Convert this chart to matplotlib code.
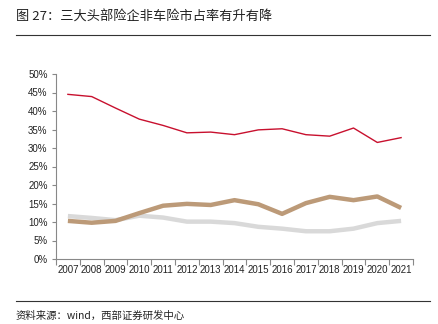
import matplotlib
matplotlib.use("Agg")
import matplotlib.pyplot as plt
from matplotlib.ticker import FixedLocator, PercentFormatter
import numpy as np

years = ["2007", "2008", "2009", "2010", "2011", "2012", "2013", "2014",
         "2015", "2016", "2017", "2018", "2019", "2020", "2021"]
red_series = [44.5, 43.9, 40.8, 37.8, 36.1, 34.1, 34.3, 33.6, 34.9, 35.2, 33.6, 33.2, 35.4, 31.5, 32.8]
tan_series = [10.3, 9.8, 10.3, 12.4, 14.4, 14.9, 14.6, 15.9, 14.8, 12.2, 15.1, 16.8, 15.9, 16.9, 13.8]
gray_series = [11.6, 11.1, 10.5, 11.7, 11.2, 10.1, 10.1, 9.7, 8.7, 8.2, 7.5, 7.5, 8.2, 9.7, 10.3]
yticks = [0, 5, 10, 15, 20, 25, 30, 35, 40, 45, 50]

title = "图 27：三大头部险企非车险市占率有升有降"
source = "资料来源：wind，西部证券研发中心"

plt.rcParams['font.family'] = ['Liberation Sans', 'Noto Sans CJK SC', 'DejaVu Sans']

fig = plt.figure(figsize=(4.38, 3.24), dpi=100)
ax = fig.add_axes([56/438, 1-259/324, (413-56)/438, (259-74)/324])

x = np.arange(len(years))
ax.plot(x, gray_series, color="#d9d9d9", lw=3.2, solid_capstyle="butt")
ax.plot(x, tan_series, color="#bc9a78", lw=3.2, solid_capstyle="butt")
ax.plot(x, red_series, color="#c8102e", lw=1.0)

ax.set_xlim(-0.5, len(years) - 0.5)
ax.set_ylim(0, 50)
ax.set_yticks(yticks)
ax.yaxis.set_major_formatter(PercentFormatter(decimals=0))
ax.set_xticks(x)
ax.set_xticklabels(years)
ax.xaxis.set_minor_locator(FixedLocator(np.arange(-0.5, len(years), 1.0)))
ax.tick_params(axis='x', which='major', length=0, labelsize=7, pad=4, colors='#222222')
ax.tick_params(axis='x', which='minor', length=4, color='#888888', width=0.8)
ax.tick_params(axis='y', length=3, labelsize=7, color='#888888', width=0.8, labelcolor='#222222', pad=3)
for s in ['top', 'right']:
    ax.spines[s].set_visible(False)
for s in ['left', 'bottom']:
    ax.spines[s].set_color('#888888')
    ax.spines[s].set_linewidth(0.8)

fig.text(16/438, 1-17/324, title, fontsize=9.5, va='center', ha='left',
         family=['Noto Sans CJK SC', 'DejaVu Sans'], color='#222222')
fig.add_artist(plt.Line2D([16/438, 430/438], [1-35/324, 1-35/324], color='#333333', lw=0.8))
fig.add_artist(plt.Line2D([16/438, 430/438], [1-301/324, 1-301/324], color='#333333', lw=0.8))
fig.text(16/438, 1-316/324, source, fontsize=7.5, va='center', ha='left',
         family=['Noto Sans CJK SC', 'DejaVu Sans'], color='#222222')

fig.savefig("out.png", dpi=100)
